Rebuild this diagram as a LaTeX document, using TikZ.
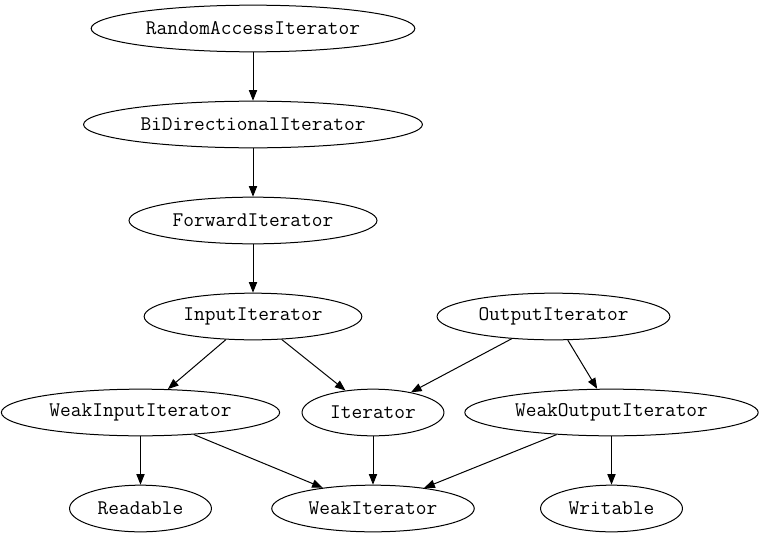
\documentclass[tikz,border=0pt]{standalone}
\usepackage{fontspec}
\usepackage{tikz}
\usetikzlibrary{arrows.meta,shapes.geometric}
\tikzset{
  cls/.style={draw,ellipse,font=\ttfamily\fontsize{15.6}{18}\selectfont,
    inner xsep=5.5pt,inner ysep=0pt,minimum height=35pt,line width=0.75pt},
  arr/.style={-{Triangle[length=8pt,width=6.2pt]},line width=0.75pt},
}
\begin{document}
\begin{tikzpicture}[x=0.75pt,y=-0.75pt]
  \useasboundingbox (0,0) rectangle (760,539);
  % iterator concepts
  \node[cls] (rai) at (253,28.5) {RandomAccessIterator};
  \node[cls] (bdi) at (253,124.5) {BiDirectionalIterator};
  \node[cls] (fwd) at (253,220.5) {ForwardIterator};
  \node[cls] (inp) at (253,316.5) {InputIterator};
  \node[cls] (outp) at (553.5,316.5) {OutputIterator};
  \node[cls] (winp) at (140.5,412.5) {WeakInputIterator};
  \node[cls] (iter) at (373,412.5) {Iterator};
  \node[cls] (wout) at (611.5,412.5) {WeakOutputIterator};
  \node[cls] (readable) at (140.5,508.5) {Readable};
  \node[cls] (witer) at (373,508.5) {WeakIterator};
  \node[cls] (writable) at (611.5,508.5) {Writable};
  % refinements
  \draw[arr] (rai) -- (bdi);
  \draw[arr] (bdi) -- (fwd);
  \draw[arr] (fwd) -- (inp);
  \draw[arr] (inp) -- (winp);
  \draw[arr] (inp) -- (iter);
  \draw[arr] (outp) -- (iter);
  \draw[arr] (outp) -- (wout);
  \draw[arr] (winp) -- (readable);
  \draw[arr] (winp) -- (witer);
  \draw[arr] (iter) -- (witer);
  \draw[arr] (wout) -- (witer);
  \draw[arr] (wout) -- (writable);
\end{tikzpicture}
\end{document}
